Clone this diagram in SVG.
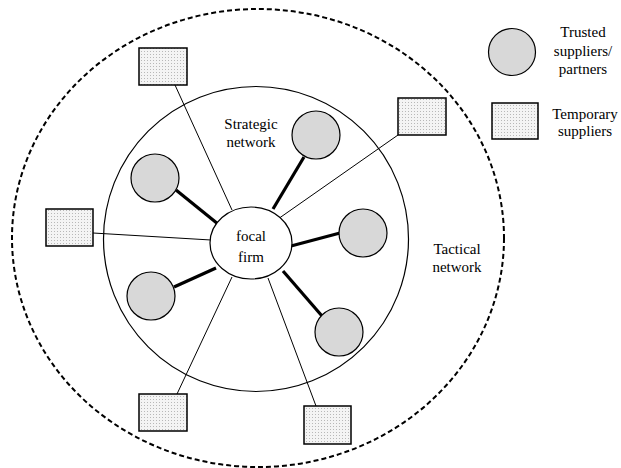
<svg xmlns="http://www.w3.org/2000/svg" width="621" height="468" viewBox="0 0 621 468">
<defs>
<pattern id="dots" width="3" height="3" patternUnits="userSpaceOnUse">
<rect width="3" height="3" fill="#f4f4f4"/>
<rect x="0" y="0" width="1" height="1" fill="#b8b8b8"/>
</pattern>
<style>
.t{font-family:"Liberation Serif","Times New Roman",serif;font-size:15px;fill:#000;text-anchor:middle}
.sq{fill:url(#dots);stroke:#000;stroke-width:1.5}
.ci{fill:#d8d8d8;stroke:#000;stroke-width:1.2}
.thin{stroke:#000;stroke-width:1;fill:none}
.thick{stroke:#000;stroke-width:3.2;fill:none}
</style>
</defs>
<rect width="621" height="468" fill="#fff"/>
<g id="tactical-network">
<ellipse cx="258" cy="238" rx="246" ry="229" fill="none" stroke="#000" stroke-width="2" stroke-dasharray="5,3"/>
<text class="t" x="457" y="254">Tactical</text>
<text class="t" x="457" y="272">network</text>
</g>
<g id="strategic-network">
<circle cx="256" cy="239" r="152.5" fill="none" stroke="#000" stroke-width="1.2"/>
<text class="t" x="251" y="129">Strategic</text>
<text class="t" x="251" y="147">network</text>
</g>
<g id="connectors">
<line class="thin" x1="175" y1="85" x2="232" y2="210"/>
<line class="thin" x1="398" y1="135" x2="278" y2="219"/>
<line class="thin" x1="93" y1="233" x2="211" y2="240"/>
<line class="thin" x1="177" y1="394" x2="232" y2="277"/>
<line class="thin" x1="316" y1="406" x2="268" y2="278"/>
<line class="thick" x1="176" y1="190" x2="218" y2="224"/>
<line class="thick" x1="304" y1="157" x2="273" y2="209"/>
<line class="thick" x1="340" y1="233" x2="291" y2="246"/>
<line class="thick" x1="322" y1="316" x2="283" y2="271"/>
<line class="thick" x1="174" y1="287" x2="216" y2="268"/>
</g>
<g id="focal-firm">
<ellipse cx="251" cy="243" rx="41" ry="36" fill="#fff" stroke="#000" stroke-width="1.2"/>
<text class="t" x="251" y="241">focal</text>
<text class="t" x="251" y="262">firm</text>
</g>
<g id="trusted-1"><circle class="ci" cx="155" cy="178" r="24"/></g>
<g id="trusted-2"><circle class="ci" cx="316" cy="135" r="24"/></g>
<g id="trusted-3"><circle class="ci" cx="363" cy="233" r="24"/></g>
<g id="trusted-4"><circle class="ci" cx="339" cy="332" r="24"/></g>
<g id="trusted-5"><circle class="ci" cx="151" cy="296" r="24"/></g>
<g id="temp-1"><rect class="sq" x="139" y="48" width="48" height="37"/></g>
<g id="temp-2"><rect class="sq" x="398" y="98" width="48" height="37"/></g>
<g id="temp-3"><rect class="sq" x="46" y="209" width="47" height="37"/></g>
<g id="temp-4"><rect class="sq" x="139" y="394" width="48" height="37"/></g>
<g id="temp-5"><rect class="sq" x="304" y="406" width="47" height="38"/></g>
<g id="legend-trusted">
<circle class="ci" cx="512" cy="52" r="23.5"/>
<text class="t" x="583" y="37">Trusted</text>
<text class="t" x="583" y="56">suppliers/</text>
<text class="t" x="583" y="74">partners</text>
</g>
<g id="legend-temporary">
<rect class="sq" x="492" y="103" width="46" height="36"/>
<text class="t" x="585" y="119">Temporary</text>
<text class="t" x="585" y="136">suppliers</text>
</g>
</svg>
